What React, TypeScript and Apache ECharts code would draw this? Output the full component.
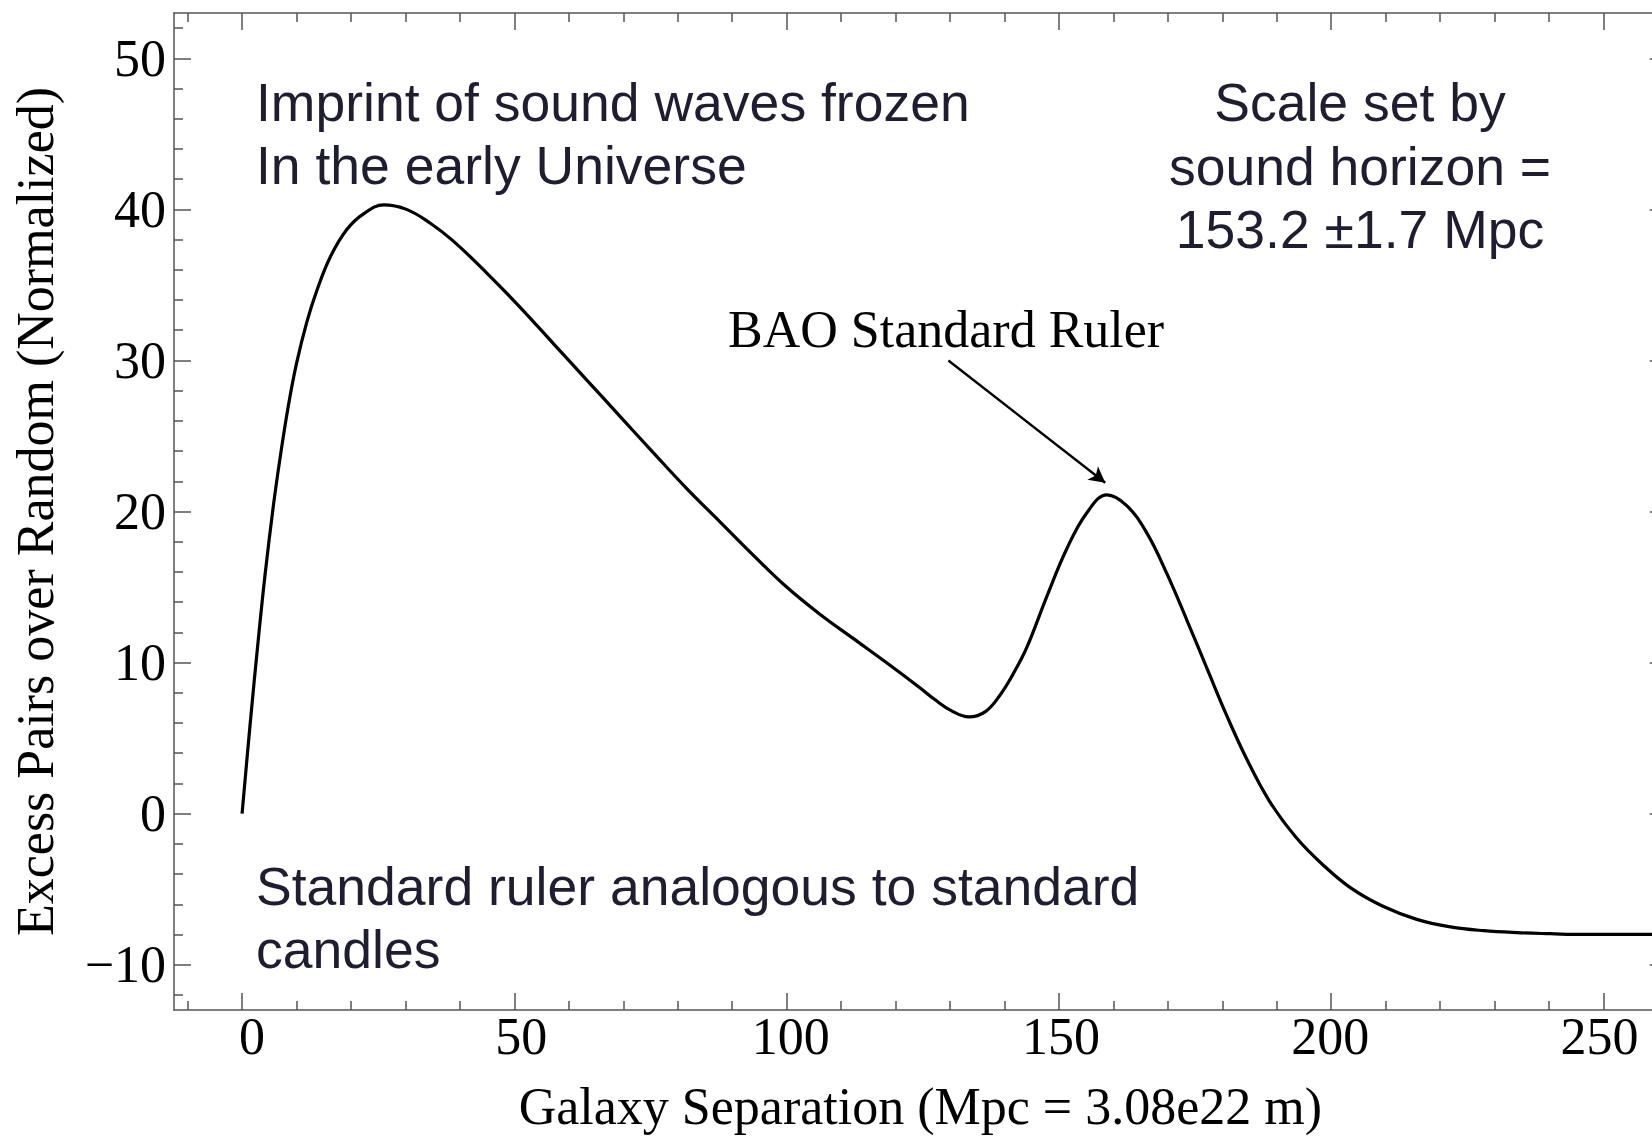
import React, { useEffect, useRef } from "react";
import * as echarts from "echarts";

// Galaxy separation (Mpc)
const xs = [
  0, 1.5, 3.0, 4.2, 5.7, 7.0, 8.5, 10.0, 11.9, 13.7, 16.2, 19.2, 22.3, 26.0,
  30.2, 34.5, 38.8, 44.9, 51.1, 57.2, 63.3, 69.4, 75.5, 81.7, 87.8, 93.9, 100.0,
  106.1, 112.2, 118.3, 124.4, 127.2, 130.3, 133.5, 136.5, 139.2, 141.6, 144.1, 147.8, 151.4,
  155.1, 158.8, 162.4, 166.1, 169.8, 173.5, 177.2, 180.8, 184.5, 188.7, 193.6,
  198.5, 203.5, 209.3, 215.7, 221.9, 228.0, 234.1, 240.3, 246.4, 253.0, 262.0,
];
// Excess pairs over random (normalized)
const ys = [
  0, 6.0, 11.6, 15.75, 20.25, 23.6, 27.0, 29.8, 32.55, 34.6, 36.85, 38.65, 39.7, 40.3,
  40.0, 39.1, 37.9, 35.8, 33.5, 31.1, 28.7, 26.3, 23.9, 21.5, 19.3, 17.1, 15.0,
  13.2, 11.6, 10.0, 8.35, 7.55, 6.8, 6.4, 6.75, 7.85, 9.25, 11.0, 14.4, 17.5,
  19.9, 21.1, 20.4, 18.6, 15.9, 12.8, 9.6, 6.5, 3.6, 0.8, -1.6,
  -3.4, -4.9, -6.1, -7.0, -7.5, -7.75, -7.88, -7.95, -8.0, -8.0, -8.0,
];

const xMajorTicks = [0, 50, 100, 150, 200, 250];
const xMinorTicks = [-10, 10, 20, 30, 40, 60, 70, 80, 90, 110, 120, 130, 140, 160, 170, 180, 190, 210, 220, 230, 240, 260];
const yMajorTicks = [-10, 0, 10, 20, 30, 40, 50];
const yMinorTicks = [-12, -8, -6, -4, -2, 2, 4, 6, 8, 12, 14, 16, 18, 22, 24, 26, 28, 32, 34, 36, 38, 42, 44, 46, 48, 52];

const xTitle = "Galaxy Separation (Mpc = 3.08e22 m)";
const yTitle = "Excess Pairs over Random (Normalized)";
const noteTopLeft = "Imprint of sound waves frozen\nIn the early Universe";
const noteTopRight = "Scale set by\nsound horizon =\n153.2 \u00b11.7 Mpc";
const noteBottom = "Standard ruler analogous to standard\ncandles";
const arrowLabel = "BAO Standard Ruler";
const arrowFrom = [129.7, 30.0];
const arrowTo = [158.5, 21.9];

const X_MIN = -12.5;
const X_MAX = 261.6;
const Y_MIN = -13;
const Y_MAX = 53;

const SERIF = "'Liberation Serif', 'Times New Roman', serif";
const SANS = "'Liberation Sans', Arial, sans-serif";
const FRAME = "#555555";
const TEXT = "#1e1e30";

const fmt = (v: number) => (v < 0 ? "\u2212" + Math.abs(v) : String(v));

// small horizontal nudges of the x tick labels, as typeset in the original
const xLabelRich: Record<string, any> = {};
const xLabelKey = (v: number) => "p" + String(v);
xMajorTicks.forEach((v) => {
  const shift = Math.round(10 - v * 0.056);
  xLabelRich[xLabelKey(v)] = {
    fontFamily: SERIF,
    fontSize: 52,
    color: "#000",
    padding: shift >= 0 ? [0, 0, 0, 2 * shift] : [0, -2 * shift, 0, 0],
  };
});

function makeX(position: "bottom" | "top", major: boolean, first: boolean) {
  return {
    type: "value",
    position,
    min: X_MIN,
    max: X_MAX,
    axisLine: { show: major, onZero: false, lineStyle: { color: FRAME, width: 1.5 } },
    axisTick: {
      show: true,
      inside: true,
      length: major ? 17 : 9,
      customValues: major ? xMajorTicks : xMinorTicks,
      lineStyle: { color: FRAME, width: 1.5 },
    },
    axisLabel: first
      ? {
          show: true,
          customValues: xMajorTicks,
          margin: 0,
          color: "#000",
          fontFamily: SERIF,
          fontSize: 52,
          formatter: (v: number) => "{" + xLabelKey(v) + "|" + fmt(v) + "}",
          rich: xLabelRich,
        }
      : { show: false },
    splitLine: { show: false },
    name: first ? xTitle : "",
    nameLocation: "middle",
    nameGap: 70,
    nameTextStyle: { fontFamily: SERIF, fontSize: 52, color: "#000" },
  };
}

function makeY(position: "left" | "right", major: boolean, first: boolean) {
  return {
    type: "value",
    position,
    min: Y_MIN,
    max: Y_MAX,
    axisLine: { show: major, onZero: false, lineStyle: { color: FRAME, width: 1.5 } },
    axisTick: {
      show: true,
      inside: true,
      length: major ? 17 : 9,
      customValues: major ? yMajorTicks : yMinorTicks,
      lineStyle: { color: FRAME, width: 1.5 },
    },
    axisLabel: first
      ? {
          show: true,
          customValues: yMajorTicks,
          margin: 8,
          color: "#000",
          fontFamily: SERIF,
          fontSize: 52,
          formatter: fmt,
        }
      : { show: false },
    splitLine: { show: false },
    name: first ? yTitle : "",
    nameLocation: "middle",
    nameGap: 113,
    nameTextStyle: { fontFamily: SERIF, fontSize: 52, color: "#000" },
  };
}

export default function App() {
  const ref = useRef<HTMLDivElement>(null);

  useEffect(() => {
    document.body.style.margin = "0";
    if (!ref.current) return;
    const chart = echarts.init(ref.current, undefined, { renderer: "svg" });
    const data = xs.map((x, i) => [x, ys[i]]);
    chart.setOption({
      animation: false,
      backgroundColor: "#ffffff",
      grid: {
        left: 174,
        top: 13,
        right: 33.3,
        bottom: 128,
        containLabel: false,
        outerBoundsMode: "none",
      },
      xAxis: [
        makeX("bottom", true, true),
        makeX("bottom", false, false),
        makeX("top", true, false),
        makeX("top", false, false),
      ],
      yAxis: [
        makeY("left", true, true),
        makeY("left", false, false),
        makeY("right", true, false),
        makeY("right", false, false),
      ],
      series: [
        {
          type: "line",
          xAxisIndex: 0,
          yAxisIndex: 0,
          data,
          smooth: 0.4,
          showSymbol: false,
          symbol: "none",
          lineStyle: { color: "#000", width: 3.2 },
          markLine: {
            silent: true,
            symbol: ["none", "arrow"],
            symbolSize: [13, 16],
            label: { show: false },
            lineStyle: { color: "#000", width: 2.4, type: "solid" },
            data: [[{ coord: arrowFrom }, { coord: arrowTo }]],
          },
        },
      ],
      graphic: [
        {
          type: "text",
          left: 256,
          top: 71,
          style: { text: noteTopLeft, font: `53.5px ${SANS}`, lineHeight: 63, fill: TEXT },
        },
        {
          type: "text",
          x: 1360,
          y: 71,
          style: {
            text: noteTopRight,
            font: `53.5px ${SANS}`,
            lineHeight: 63.5,
            fill: TEXT,
            align: "center",
            verticalAlign: "top",
          },
        },
        {
          type: "text",
          left: 256,
          top: 855,
          style: { text: noteBottom, font: `53.5px ${SANS}`, lineHeight: 63, fill: TEXT },
        },
        {
          type: "text",
          x: 728,
          y: 329,
          style: {
            text: arrowLabel,
            font: `52px ${SERIF}`,
            fill: "#000",
            align: "left",
            verticalAlign: "middle",
          },
        },
      ],
    });
    return () => chart.dispose();
  }, []);

  return (
    <div style={{ width: 1652, height: 1138, overflow: "hidden", background: "#fff" }}>
      <div ref={ref} style={{ width: 1700, height: 1138 }} />
    </div>
  );
}
